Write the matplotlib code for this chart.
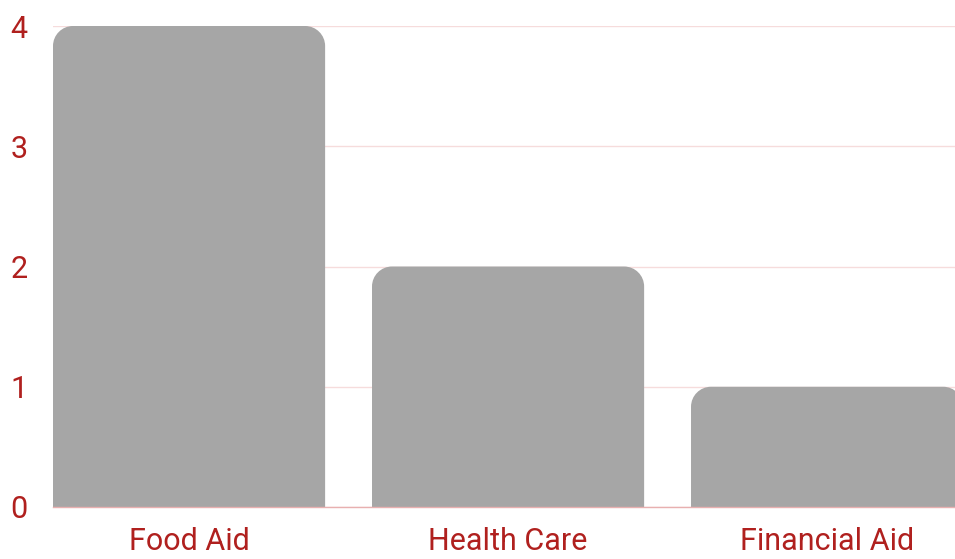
import matplotlib.pyplot as plt
from matplotlib.path import Path
from matplotlib.patches import PathPatch

categories = ['Food Aid', 'Health Care', 'Financial Aid']
counts = [4, 2, 1]
y_ticks = [0, 1, 2, 3, 4]

bar_color = '#a6a6a6'
text_color = '#b0201e'
grid_color = '#f6dcdc'

plt.rcParams['font.family'] = ['Roboto', 'DejaVu Sans']

fig = plt.figure(figsize=(9.55, 5.59), dpi=100)
ax = fig.add_axes([53 / 955, 52 / 559, 1 - 53 / 955, (507 - 26) / 559])

x = list(range(len(categories)))
bars = ax.bar(x, counts, width=0.853, color=bar_color, zorder=2)

ax.set_xlim(-0.4265, 2.401)
ax.set_ylim(0, 4)

# 圆角顶部：像素半径换算成数据单位
px_x = (955 - 53) / (2.401 + 0.4265)
px_y = (507 - 26) / 4
rx = 20 / px_x
ry = 20 / px_y
k = 0.5523

for rect in bars:
    x0 = rect.get_x()
    w = rect.get_width()
    h = rect.get_height()
    x1 = x0 + w
    verts = [
        (x0, 0), (x0, h - ry),
        (x0, h - ry + k * ry), (x0 + rx - k * rx, h), (x0 + rx, h),
        (x1 - rx, h),
        (x1 - rx + k * rx, h), (x1, h - ry + k * ry), (x1, h - ry),
        (x1, 0), (x0, 0),
    ]
    codes = [Path.MOVETO, Path.LINETO,
             Path.CURVE4, Path.CURVE4, Path.CURVE4,
             Path.LINETO,
             Path.CURVE4, Path.CURVE4, Path.CURVE4,
             Path.LINETO, Path.CLOSEPOLY]
    ax.add_patch(PathPatch(Path(verts, codes), facecolor=bar_color,
                           edgecolor='none', zorder=2))
    rect.remove()

ax.set_yticks(y_ticks)
ax.set_xticks(x)
ax.set_xticklabels(categories)
ax.yaxis.grid(True, color=grid_color, linewidth=1, zorder=0)
ax.set_axisbelow(True)

for s in ['top', 'right', 'left']:
    ax.spines[s].set_visible(False)
ax.spines['bottom'].set_color('#e8b0b0')
ax.spines['bottom'].set_linewidth(1)

ax.tick_params(axis='both', length=0, colors=text_color)
ax.tick_params(axis='y', labelsize=22, pad=18.5)
ax.tick_params(axis='x', labelsize=22, pad=14.5)

plt.savefig('out.png', dpi=100)
